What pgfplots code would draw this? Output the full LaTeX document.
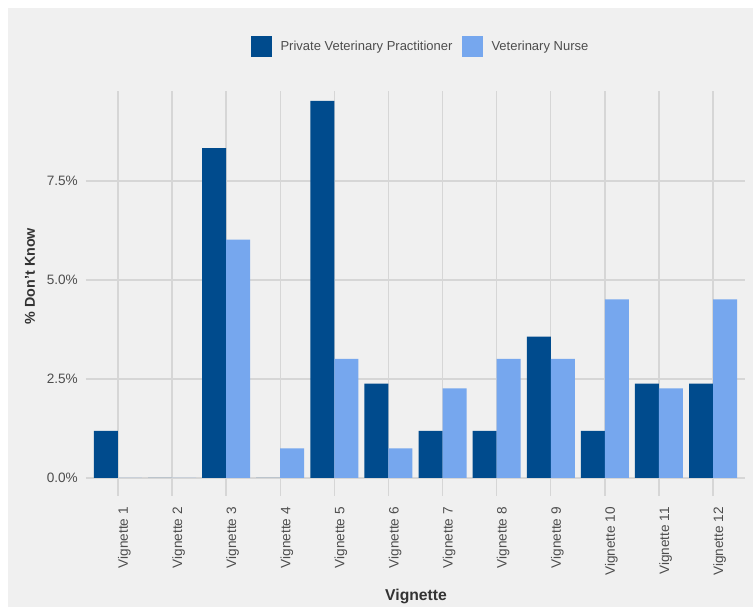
\documentclass[border=0pt]{standalone}
\usepackage{fontspec}
\setmainfont{Liberation Sans}
\usepackage{pgfplots}
\pgfplotsset{compat=1.18}
\definecolor{pvp}{HTML}{004B8D}
\definecolor{vn}{HTML}{76A7EE}
\definecolor{bg}{HTML}{F0F0F0}
\definecolor{gridc}{HTML}{D6D6D6}
\definecolor{txt}{HTML}{4D4D4D}
\definecolor{ttl}{HTML}{333333}
\begin{document}
\begin{tikzpicture}[x=1pt,y=1pt]
\fill[white] (0,0) rectangle (753,607);
\fill[bg] (8,0) rectangle (753,599);
\begin{axis}[
  at={(86pt,111pt)}, anchor=south west,
  scale only axis, width=659pt, height=405pt,
  xmin=0.41, xmax=12.59, ymin=-0.455, ymax=9.77,
  axis line style={draw=none},
  ybar=0pt, bar width=24pt,
  xtick={1,...,12},
  xticklabels={Vignette 1,Vignette 2,Vignette 3,Vignette 4,Vignette 5,Vignette 6,Vignette 7,Vignette 8,Vignette 9,Vignette 10,Vignette 11,Vignette 12},
  ytick={0,2.5,5,7.5},
  yticklabels={0.0\%,2.5\%,5.0\%,7.5\%},
  major tick length=0pt,
  grid=major,
  major grid style={gridc, line width=1.4pt},
  tick label style={font=\fontsize{13.6}{16}\selectfont, text=txt},
  xticklabel style={rotate=90, anchor=north east, inner sep=0pt},
  xticklabel shift=11pt,
  yticklabel style={anchor=east, inner sep=0pt},
  yticklabel shift=8pt,
  xlabel={Vignette},
  ylabel={\% Don't Know},
  xlabel style={font=\bfseries\fontsize{15.7}{18}\selectfont, text=ttl, at={(axis description cs:0.5008,-0.247)}, anchor=center},
  ylabel style={font=\bfseries\fontsize{14.3}{17}\selectfont, text=ttl, at={(axis description cs:-0.085,0.543)}, anchor=center},
  legend style={at={(axis description cs:0.506,1.110)}, anchor=center, draw=none, fill=none,
    font=\fontsize{13}{15}\selectfont, text=txt, nodes={inner sep=0pt},
    /tikz/every even column/.append style={column sep=9pt}},
  legend columns=2,
  legend cell align=left,
]
\addplot[fill=pvp, draw=none, legend image code/.code={\fill[pvp] (0pt,-10.5pt) rectangle (21pt,10.5pt); \path (30pt,0pt);}]
  coordinates {(1,1.19) (2,0) (3,8.33) (4,0) (5,9.52) (6,2.38) (7,1.19) (8,1.19) (9,3.57) (10,1.19) (11,2.38) (12,2.38)};
\addplot[fill=vn, draw=none, legend image code/.code={\fill[vn] (0pt,-10.5pt) rectangle (21pt,10.5pt); \path (30pt,0pt);}]
  coordinates {(1,0) (2,0) (3,6.02) (4,0.75) (5,3.01) (6,0.75) (7,2.26) (8,3.01) (9,3.01) (10,4.51) (11,2.26) (12,4.51)};
\legend{Private Veterinary Practitioner, Veterinary Nurse}
\end{axis}
\end{tikzpicture}
\end{document}
